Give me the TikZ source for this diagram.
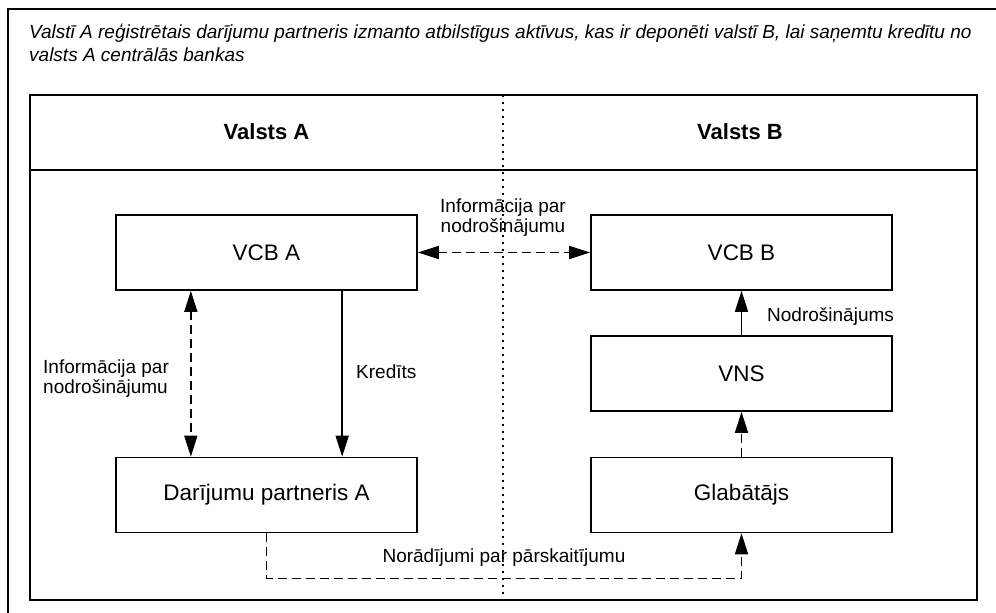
\documentclass[tikz,border=0pt]{standalone}
\usepackage{fontspec}
\setmainfont{Liberation Sans}
\usetikzlibrary{arrows.meta}
\usetikzlibrary{calc}

\begin{document}
\begin{tikzpicture}[x=1bp,y=-1bp,
  box/.style={draw,line width=1.6bp,minimum width=301bp,minimum height=75bp,inner sep=0pt,font=\fontsize{22.5bp}{26bp}\selectfont},
  lbl/.style={inner sep=0pt,align=center,font=\fontsize{19bp}{20bp}\selectfont},
  arr/.style={line width=1.5bp,-{Triangle[length=21bp,width=13bp]}},
  arrboth/.style={line width=1.5bp,{Triangle[length=21bp,width=13bp]}-{Triangle[length=21bp,width=13bp]}},
  dashln/.style={dash pattern=on 9bp off 5bp},
  frame/.style={line width=1.8bp}]
\useasboundingbox (0,0) rectangle (996,613);
\draw[frame] (8,613) |- (996,9);
\node[anchor=north west,align=left,inner sep=0pt,font=\itshape\fontsize{19bp}{23bp}\selectfont] (intro) at (29,24)
  {Valstī A reģistrētais darījumu partneris izmanto atbilstīgus aktīvus, kas ir deponēti valstī B, lai saņemtu kredītu no\\valsts A centrālās bankas};
\draw[frame] (30,95) rectangle (977,600);
\draw[frame] (30,170) -- (977,170);
\draw[line width=1.6bp,dash pattern=on 2bp off 5bp] (503,95) -- (503,600);
\node[font=\bfseries\fontsize{22bp}{26bp}\selectfont] (ttlA) at (266.5,132) {Valsts A};
\node[font=\bfseries\fontsize{22bp}{26bp}\selectfont] (ttlB) at (740,132) {Valsts B};
\node[box] (vcbA) at (266.5,252.5) {VCB A};
\node[box] (vcbB) at (741.5,252.5) {VCB B};
\node[box] (vns) at (741.5,373.5) {VNS};
\node[box] (glab) at (741.5,495) {Glabātājs};
\node[box] (partA) at (266.5,495) {Darījumu partneris A};
\draw[arrboth,dashln] (vcbA.east) -- (vcbB.west);
\draw[arrboth,dashln] ($(vcbA.south west)!0.25!(vcbA.south east)$) -- ($(partA.north west)!0.25!(partA.north east)$);
\draw[arr] ($(vcbA.south west)!0.75!(vcbA.south east)$) -- ($(partA.north west)!0.75!(partA.north east)$);
\draw[arr] (vns) -- (vcbB);
\draw[arr,dashln] (glab) -- (vns);
\draw[arr,dashln] (partA.south) -- ++(0,45) -| (glab.south);
\node[lbl] (infoC) at (503,218) {Informācija par\\nodrošinājumu};
\node[lbl,anchor=west,align=left] (infoL) at (43,379) {Informācija par\\nodrošinājumu};
\node[lbl,anchor=west] (kred) at (356,372) {Kredīts};
\node[lbl,anchor=west] (nodr) at (767,317) {Nodrošinājums};
\node[lbl] (instr) at (504,558) {Norādījumi par pārskaitījumu};
\end{tikzpicture}
\end{document}
